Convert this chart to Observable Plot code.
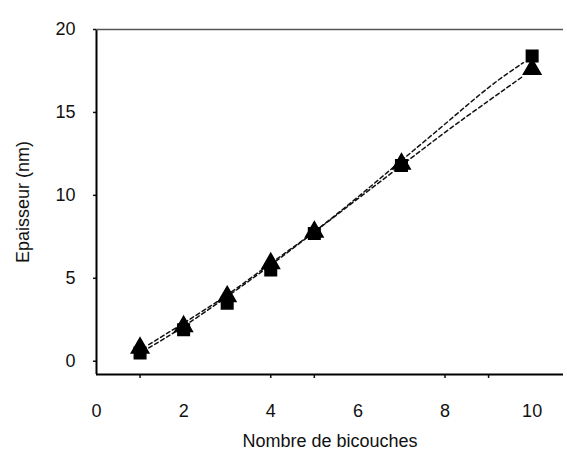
<!DOCTYPE html>
<html>
<head>
<meta charset="utf-8">
<script src="https://cdn.jsdelivr.net/npm/d3@7"></script>
<script src="https://cdn.jsdelivr.net/npm/@observablehq/plot@0.6"></script>
<style>
  html, body { margin: 0; padding: 0; background: #fff; }
  svg { display: block; }
</style>
</head>
<body>
<div id="chart"></div>
<script>
// Data points (Nombre de bicouches vs Epaisseur in nm)
const layers = [1, 2, 3, 4, 5, 7, 10];
const thicknessSquares = [0.5, 1.9, 3.5, 5.5, 7.7, 11.8, 18.4];
const thicknessTriangles = [0.8, 2.1, 3.9, 5.9, 7.8, 11.9, 17.6];

// Dashed fit curves
const fitX = [1.2, 2, 3, 4, 5, 6, 7, 8, 9, 9.8];
const fitUpper = [0.8, 2.1, 3.9, 5.8, 7.8, 9.9, 12.1, 14.3, 16.5, 18.0];
const fitLower = [1.0, 2.3, 4.0, 5.9, 7.8, 9.8, 11.8, 13.8, 15.7, 17.2];

const xTickLabels = [0, 2, 4, 6, 8, 10];
const xTickMarks = [1, 4, 5, 8, 9];
const yTickLabels = [0, 5, 10, 15, 20];

const pts = [
  ...layers.map((x, i) => ({x, y: thicknessSquares[i], s: "square"})),
  ...layers.map((x, i) => ({x, y: thicknessTriangles[i], s: "triangle"}))
];
const fitU = fitX.map((x, i) => ({x, y: fitUpper[i]}));
const fitL = fitX.map((x, i) => ({x, y: fitLower[i]}));

const xDom = [0, 10.72];
const yDom = [-0.8, 20];

const chart = Plot.plot({
  width: 567,
  height: 462,
  marginLeft: 96,
  marginRight: 4,
  marginTop: 29,
  marginBottom: 88,
  style: { fontFamily: "'Liberation Sans', Arial, sans-serif", fontSize: "18px", color: "#111", background: "#fff" },
  x: { domain: xDom },
  y: { domain: yDom },
  marks: [
    Plot.axisX(xTickMarks, { tickSize: 4, text: null, label: null, strokeWidth: 1.5 }),
    Plot.axisX(xTickLabels, { tickSize: 0, tickPadding: 30, fontSize: 18, fill: "#111",
      label: "Nombre de bicouches", labelAnchor: "center", labelArrow: "none", labelOffset: 72 }),
    Plot.axisY(yTickLabels, { tickSize: 3, tickPadding: 18, fontSize: 18, strokeWidth: 1.5, fill: "#111",
      label: "Epaisseur (nm)", labelAnchor: "center", labelArrow: "none", labelOffset: 80 }),
    Plot.ruleX([xDom[0]], { stroke: "#000", strokeWidth: 2 }),
    Plot.ruleY([yDom[0]], { stroke: "#000", strokeWidth: 2 }),
    Plot.ruleY([yDom[1]], { stroke: "#555", strokeWidth: 1.5 }),
    Plot.line(fitU, { x: "x", y: "y", curve: "natural", stroke: "#111", strokeWidth: 1.5, strokeDasharray: "4,3" }),
    Plot.line(fitL, { x: "x", y: "y", curve: "natural", stroke: "#111", strokeWidth: 1.5, strokeDasharray: "4,3" }),
    Plot.dot(pts, { x: "x", y: "y", symbol: "s", r: 6.5, fill: "#000", stroke: "#000" })
  ]
});
document.getElementById("chart").appendChild(chart);
</script>
</body>
</html>
